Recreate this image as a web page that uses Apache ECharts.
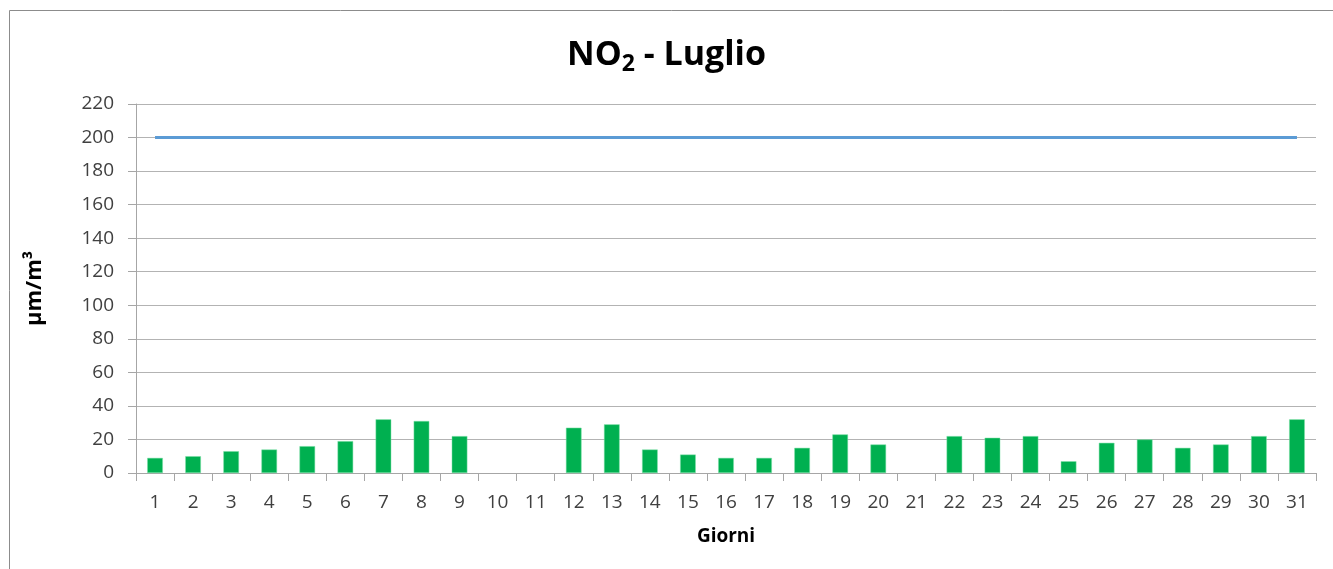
<!DOCTYPE html>
<html>
<head>
<meta charset="utf-8">
<script src="https://cdn.jsdelivr.net/npm/echarts@6/dist/echarts.min.js"></script>
<style>
html,body{margin:0;padding:0;background:#fff;}
#chart{width:1333px;height:569px;}
</style>
</head>
<body>
<div id="chart"></div>
<script>
const days = ['1','2','3','4','5','6','7','8','9','10','11','12','13','14','15','16','17','18','19','20','21','22','23','24','25','26','27','28','29','30','31'];
const no2Values = [9,10,13,14,16,19,32,31,22,null,null,27,29,14,11,9,9,15,23,17,null,22,21,22,7,18,20,15,17,22,32];
const limitValues = [200,200,200,200,200,200,200,200,200,200,200,200,200,200,200,200,200,200,200,200,200,200,200,200,200,200,200,200,200,200,200];
const yTicks = {min:0, max:220, interval:20};

const chart = echarts.init(document.getElementById('chart'), null, {renderer:'canvas'});
const font = "Open Sans, Liberation Sans, sans-serif";
chart.setOption({
  animation:false,
  backgroundColor:'#fff',
  graphic:[{
    type:'rect', shape:{x:9.5,y:10.5,width:1400,height:700},
    style:{fill:'none',stroke:'#8c8c8c',lineWidth:1}, silent:true
  }],
  title:{
    text:'NO{sub|2} - Luglio',
    left:'center', top:30,
    textStyle:{
      fontFamily:font, fontSize:34, fontWeight:'bold', color:'#000',
      rich:{sub:{fontFamily:font, fontSize:23, fontWeight:'bold', color:'#000', padding:[18,0,0,0]}}
    }
  },
  grid:{left:136, right:17, top:104, bottom:96},
  xAxis:{
    type:'category', data:days, boundaryGap:true,
    name:'Giorni', nameLocation:'middle', nameGap:54,
    nameTextStyle:{fontFamily:font, fontSize:19, fontWeight:'bold', color:'#000'},
    axisLine:{show:true, lineStyle:{color:'#a6a6a6', width:1}},
    axisTick:{show:true, alignWithLabel:false, length:8, lineStyle:{color:'#a6a6a6'}},
    axisLabel:{fontFamily:font, fontSize:19, color:'#404040', margin:20, interval:0},
    splitLine:{show:false}
  },
  yAxis:{
    type:'value', min:yTicks.min, max:yTicks.max, interval:yTicks.interval,
    name:'µm/m³', nameLocation:'middle', nameGap:90, nameRotate:90,
    nameTextStyle:{fontFamily:font, fontSize:22, fontWeight:'bold', color:'#000'},
    axisLine:{show:true, lineStyle:{color:'#a6a6a6', width:1}},
    axisTick:{show:true, length:8, lineStyle:{color:'#a6a6a6'}},
    axisLabel:{fontFamily:font, fontSize:19, color:'#404040', margin:22},
    splitLine:{show:true, lineStyle:{color:'#b3b3b3', width:1}}
  },
  series:[
    {
      type:'bar', name:'NO2', data:no2Values, barWidth:'41%',
      itemStyle:{color:'#00B050', borderColor:'#7fe0a8', borderWidth:0.5}
    },
    {
      type:'line', name:'Limite', data:limitValues, symbol:'none',
      lineStyle:{color:'#5B9BD5', width:3}, z:3
    }
  ]
});
</script>
</body>
</html>
